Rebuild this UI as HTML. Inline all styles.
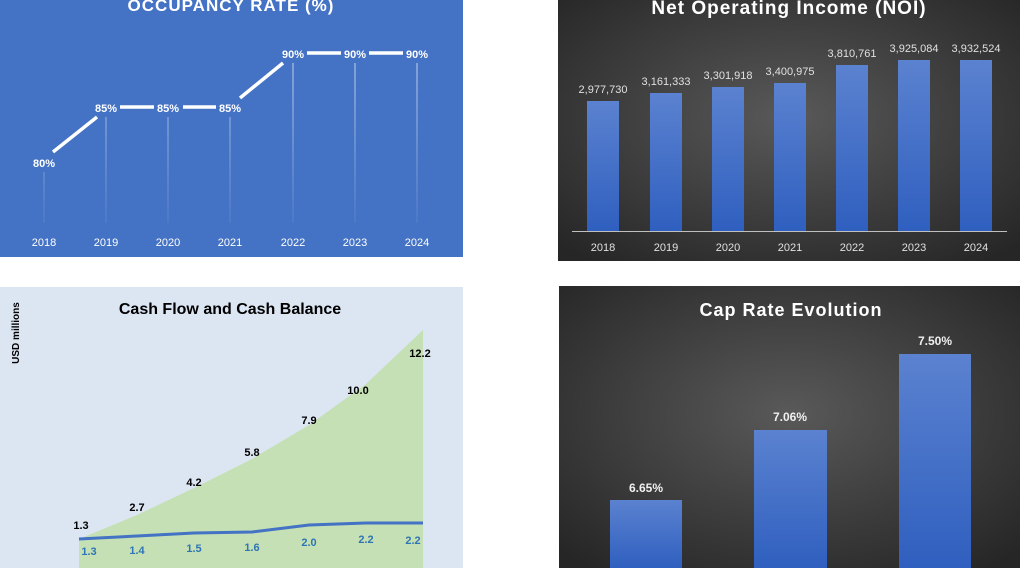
<!DOCTYPE html>
<html><head><style>
body{margin:0;width:1024px;height:568px;background:#fff;overflow:hidden;font-family:"Liberation Sans",sans-serif}
</style></head><body>
<svg width="1024" height="568" xmlns="http://www.w3.org/2000/svg" style="position:absolute;left:0;top:0">
<defs>
<radialGradient id="dk" cx="50%" cy="45%" r="70%"><stop offset="0" stop-color="#595959"/><stop offset="1" stop-color="#262626"/></radialGradient>
<linearGradient id="bar" x1="0" y1="0" x2="0" y2="1"><stop offset="0" stop-color="#5b82d0"/><stop offset="1" stop-color="#2f5fbf"/></linearGradient>
<linearGradient id="gl" gradientUnits="userSpaceOnUse" x1="0" y1="60" x2="0" y2="223"><stop offset="0" stop-color="#fff" stop-opacity="0.7"/><stop offset="1" stop-color="#fff" stop-opacity="0.1"/></linearGradient>
</defs>
<!-- Panel 1 -->
<rect x="0" y="0" width="463" height="257" fill="#4472C4"/>
<text x="231" y="11" text-anchor="middle" fill="#fff" font-size="17" font-weight="bold" letter-spacing="1">OCCUPANCY RATE (%)</text>
<g stroke="url(#gl)" stroke-width="1">
<line x1="44" y1="172" x2="44" y2="223"/><line x1="106" y1="117" x2="106" y2="223"/><line x1="168" y1="117" x2="168" y2="223"/><line x1="230" y1="117" x2="230" y2="223"/><line x1="293" y1="63" x2="293" y2="223"/><line x1="355" y1="63" x2="355" y2="223"/><line x1="417" y1="63" x2="417" y2="223"/>
</g>
<g stroke="#fff" stroke-width="3.5" fill="none">
<line x1="53" y1="152" x2="97" y2="117"/><line x1="120" y1="107" x2="154" y2="107"/><line x1="183" y1="107" x2="216" y2="107"/><line x1="240" y1="98" x2="283" y2="63"/><line x1="307" y1="53" x2="341" y2="53"/><line x1="369" y1="53" x2="403" y2="53"/>
</g>
<g fill="#fff" font-size="11" font-weight="bold" text-anchor="middle">
<text x="44" y="167">80%</text><text x="106" y="112">85%</text><text x="168" y="112">85%</text><text x="230" y="112">85%</text><text x="293" y="58">90%</text><text x="355" y="58">90%</text><text x="417" y="58">90%</text>
</g>
<g fill="#fff" font-size="11" text-anchor="middle">
<text x="44" y="246">2018</text><text x="106" y="246">2019</text><text x="168" y="246">2020</text><text x="230" y="246">2021</text><text x="293" y="246">2022</text><text x="355" y="246">2023</text><text x="417" y="246">2024</text>
</g>
<!-- Panel 2 -->
<rect x="558" y="0" width="462" height="261" fill="url(#dk)"/>
<text x="789" y="14" text-anchor="middle" fill="#fff" font-size="19" font-weight="bold" letter-spacing="1">Net Operating Income (NOI)</text>
<g fill="url(#bar)">
<rect x="587" y="101" width="32" height="130"/><rect x="650" y="93" width="32" height="138"/><rect x="712" y="87" width="32" height="144"/><rect x="774" y="83" width="32" height="148"/><rect x="836" y="65" width="32" height="166"/><rect x="898" y="60" width="32" height="171"/><rect x="960" y="60" width="32" height="171"/>
</g>
<line x1="572" y1="231.5" x2="1007" y2="231.5" stroke="#bfbfbf" stroke-width="1"/>
<g fill="#e0e0e0" font-size="11" text-anchor="middle">
<text x="603" y="93">2,977,730</text><text x="666" y="85">3,161,333</text><text x="728" y="79">3,301,918</text><text x="790" y="75">3,400,975</text><text x="852" y="57">3,810,761</text><text x="914" y="52">3,925,084</text><text x="976" y="52">3,932,524</text>
<text x="603" y="251">2018</text><text x="666" y="251">2019</text><text x="728" y="251">2020</text><text x="790" y="251">2021</text><text x="852" y="251">2022</text><text x="914" y="251">2023</text><text x="976" y="251">2024</text>
</g>
<!-- Panel 3 -->
<rect x="0" y="287" width="463" height="281" fill="#dce6f2"/>
<text x="230" y="314" text-anchor="middle" fill="#000" font-size="16" font-weight="bold">Cash Flow and Cash Balance</text>
<text transform="translate(19,333) rotate(-90)" text-anchor="middle" font-size="10" font-weight="bold" fill="#000">USD millions</text>
<polygon points="79,539 137,515 194,488 252,459 309,425 366,384 423,330 423,568 79,568" fill="#c5e0b4"/>
<polyline points="79,539 137,536 194,533 252,532 309,525 366,523 423,523" fill="none" stroke="#4472C4" stroke-width="3"/>
<g fill="#000" font-size="11" font-weight="bold" text-anchor="middle">
<text x="81" y="529">1.3</text><text x="137" y="511">2.7</text><text x="194" y="486">4.2</text><text x="252" y="456">5.8</text><text x="309" y="424">7.9</text><text x="358" y="394">10.0</text><text x="420" y="357">12.2</text>
</g>
<g fill="#2e75b6" font-size="11" font-weight="bold" text-anchor="middle">
<text x="89" y="555">1.3</text><text x="137" y="554">1.4</text><text x="194" y="552">1.5</text><text x="252" y="551">1.6</text><text x="309" y="546">2.0</text><text x="366" y="543">2.2</text><text x="413" y="544">2.2</text>
</g>
<!-- Panel 4 -->
<rect x="559" y="286" width="461" height="282" fill="url(#dk)"/>
<text x="791" y="316" text-anchor="middle" fill="#fff" font-size="18" font-weight="bold" letter-spacing="1">Cap Rate Evolution</text>
<g fill="url(#bar)">
<rect x="610" y="500" width="72" height="68"/><rect x="754" y="430" width="73" height="138"/><rect x="899" y="354" width="72" height="214"/>
</g>
<g fill="#f0f0f0" font-size="12" font-weight="bold" text-anchor="middle">
<text x="646" y="492">6.65%</text><text x="790" y="421">7.06%</text><text x="935" y="345">7.50%</text>
</g>
</svg>
</body></html>
